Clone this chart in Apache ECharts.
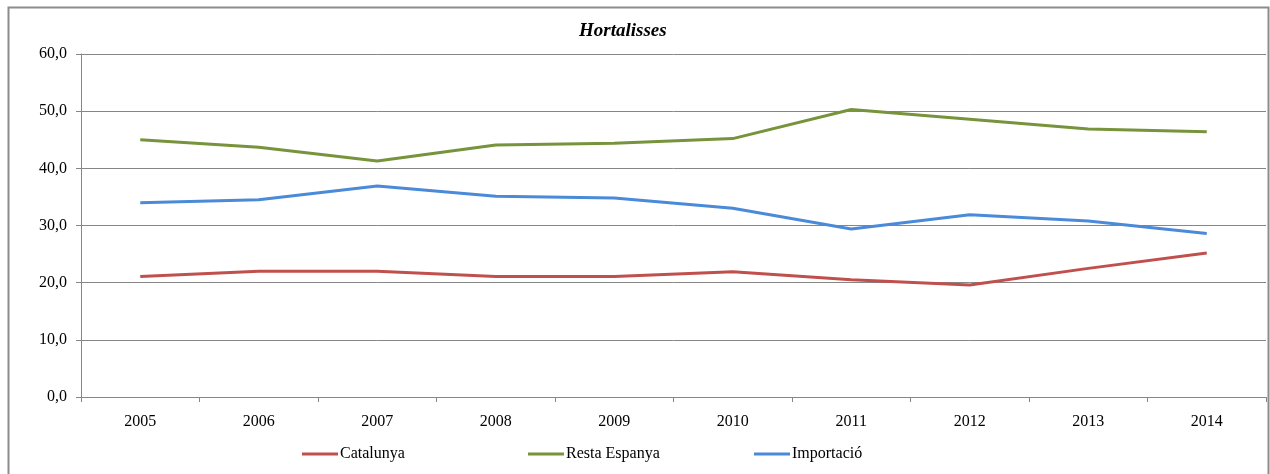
<!DOCTYPE html>
<html>
<head>
<meta charset="utf-8">
<script src="https://cdn.jsdelivr.net/npm/echarts@6/dist/echarts.min.js"></script>
<style>
html,body{margin:0;padding:0;background:#fff;}
#chart{width:1270px;height:474px;}
</style>
</head>
<body>
<div id="chart"></div>
<script>
const categories = ['2005','2006','2007','2008','2009','2010','2011','2012','2013','2014'];
const catalunya = [21.1, 22.0, 22.0, 21.1, 21.1, 21.9, 20.5, 19.6, 22.5, 25.2];
const restaEspanya = [45.0, 43.7, 41.3, 44.1, 44.4, 45.2, 50.3, 48.6, 46.9, 46.4];
const importacio = [34.0, 34.5, 36.9, 35.1, 34.8, 33.0, 29.4, 31.9, 30.8, 28.6];
const seriesNames = ['Catalunya', 'Resta Espanya', 'Importació'];

const FONT = '"Liberation Serif", "Times New Roman", serif';
const AXIS_COLOR = '#868686';
const legendLefts = [297, 523, 749];

const legendBase = {
  top: 441,
  icon: 'rect',
  itemWidth: 36,
  itemHeight: 3,
  itemGap: 0,
  textStyle: { fontFamily: FONT, fontSize: 16, color: '#000', padding: [0, 0, 0, -3] }
};

const chart = echarts.init(document.getElementById('chart'));
chart.setOption({
  animation: false,
  backgroundColor: '#fff',
  graphic: [{
    type: 'rect',
    shape: { x: 8.5, y: 7.5, width: 1260, height: 490 },
    style: { fill: 'none', stroke: '#8c8c8c', lineWidth: 2 },
    silent: true, z: 0
  }],
  title: {
    text: 'Hortalisses',
    left: 574,
    top: 17,
    textStyle: { fontFamily: FONT, fontSize: 19, fontWeight: 'bold', fontStyle: 'italic', color: '#000' }
  },
  grid: { left: 81, right: 4, top: 54, bottom: 77, containLabel: false },
  xAxis: {
    type: 'category',
    data: categories,
    boundaryGap: true,
    axisLine: { lineStyle: { color: AXIS_COLOR, width: 1 } },
    axisTick: { show: true, length: 5, lineStyle: { color: AXIS_COLOR } },
    axisLabel: { margin: 17, color: '#000', fontFamily: FONT, fontSize: 16 },
    splitLine: { show: false }
  },
  yAxis: {
    type: 'value',
    min: 0, max: 60, interval: 10,
    axisLine: { show: true, lineStyle: { color: AXIS_COLOR, width: 1 } },
    axisTick: { show: true, length: 5, lineStyle: { color: AXIS_COLOR } },
    axisLabel: {
      margin: 14, color: '#000', fontFamily: FONT, fontSize: 16,
      formatter: v => v.toFixed(1).replace('.', ',')
    },
    splitLine: { lineStyle: { color: AXIS_COLOR, width: 1 } }
  },
  legend: seriesNames.map((n, i) => Object.assign({}, legendBase, { data: [n], left: legendLefts[i] })),
  series: [
    { name: seriesNames[0], type: 'line', data: catalunya, symbol: 'none', lineStyle: { width: 3, color: '#C0504D' }, itemStyle: { color: '#C0504D' } },
    { name: seriesNames[1], type: 'line', data: restaEspanya, symbol: 'none', lineStyle: { width: 3, color: '#77933C' }, itemStyle: { color: '#77933C' } },
    { name: seriesNames[2], type: 'line', data: importacio, symbol: 'none', lineStyle: { width: 3, color: '#4A8AD8' }, itemStyle: { color: '#4A8AD8' } }
  ]
});
</script>
</body>
</html>
